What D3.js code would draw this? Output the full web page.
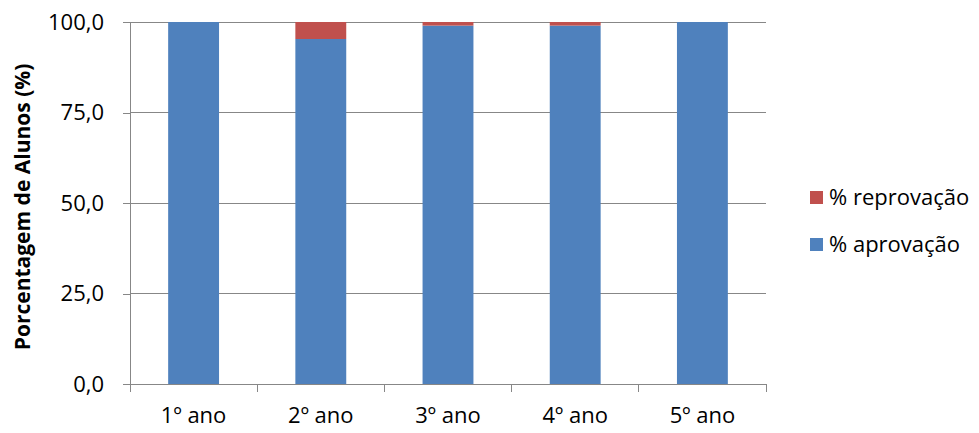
<!DOCTYPE html>
<html>
<head>
<meta charset="utf-8">
<script src="https://cdn.jsdelivr.net/npm/d3@7"></script>
<style>
  html, body { margin: 0; padding: 0; background: #fff; }
  svg { display: block; font-family: "Open Sans", "Noto Sans", sans-serif; }
</style>
</head>
<body>
<svg id="chart" width="979" height="433"></svg>
<script>
const categories = ["1º ano", "2º ano", "3º ano", "4º ano", "5º ano"];
const aprovacao = [100.0, 95.3, 99.0, 99.0, 100.0];
const reprovacao = [0.0, 4.7, 1.0, 1.0, 0.0];
const yTicks = [0, 25, 50, 75, 100];
const seriesNames = ["% aprovação", "% reprovação"];
const seriesColors = ["#4F81BD", "#C0504D"];
const yTitle = "Porcentagem de Alunos (%)";

(function () {
const svg = d3.select("#chart");
const pLeft = 130, pRight = 766, pTop = 22, pBottom = 384;
const gridColor = "#878787";

const x = d3.scaleBand().domain(categories).range([pLeft, pRight]).paddingInner(0.6).paddingOuter(0.3);
const y = d3.scaleLinear().domain([0, 100]).range([pBottom, pTop]);
const fmt = v => d3.format(".1f")(v).replace(".", ",");

// gridlines
svg.append("g").selectAll("line").data(yTicks.filter(d => d > 0)).join("line")
  .attr("x1", pLeft).attr("x2", pRight)
  .attr("y1", d => y(d)).attr("y2", d => y(d))
  .attr("stroke", gridColor).attr("stroke-width", 1).attr("shape-rendering", "crispEdges");

// stacked bars
const table = categories.map((c, i) => ({ cat: c, ap: aprovacao[i], rep: reprovacao[i] }));
const stack = d3.stack().keys(["ap", "rep"])(table);
svg.append("g").selectAll("g").data(stack).join("g")
  .attr("fill", (d, i) => seriesColors[i])
  .selectAll("rect").data(d => d).join("rect")
  .attr("x", d => x(d.data.cat))
  .attr("width", x.bandwidth())
  .attr("y", d => y(d[1]))
  .attr("height", d => Math.max(0, y(d[0]) - y(d[1])));

// y axis
const yAxis = svg.append("g").attr("transform", `translate(${pLeft},0)`)
  .call(d3.axisLeft(y).tickValues(yTicks).tickFormat(fmt).tickSize(7).tickSizeOuter(0).tickPadding(19));
yAxis.select(".domain").remove();
yAxis.selectAll(".tick line").attr("stroke", gridColor).attr("shape-rendering", "crispEdges");
yAxis.selectAll(".tick text").attr("font-size", 22).attr("fill", "#000")
  .attr("font-family", "'Open Sans', 'Noto Sans', sans-serif");
svg.append("line").attr("x1", pLeft).attr("x2", pLeft).attr("y1", pTop).attr("y2", pBottom + 8)
  .attr("stroke", gridColor).attr("shape-rendering", "crispEdges");

// x axis
const xAxis = svg.append("g").attr("transform", `translate(0,${pBottom})`)
  .call(d3.axisBottom(x).tickSize(0).tickPadding(23));
xAxis.select(".domain").remove();
xAxis.selectAll(".tick text").attr("font-size", 22).attr("fill", "#000")
  .attr("font-family", "'Open Sans', 'Noto Sans', sans-serif");
svg.append("line").attr("x1", pLeft).attr("x2", pRight).attr("y1", pBottom).attr("y2", pBottom)
  .attr("stroke", gridColor).attr("shape-rendering", "crispEdges");
const bounds = categories.map(c => x(c) - x.step() * x.paddingOuter()).concat([pRight]);
svg.append("g").selectAll("line").data(bounds).join("line")
  .attr("x1", d => d).attr("x2", d => d)
  .attr("y1", pBottom).attr("y2", pBottom + 8)
  .attr("stroke", gridColor).attr("shape-rendering", "crispEdges");

// y title
svg.append("text")
  .attr("transform", `translate(30,${(pTop + pBottom) / 2 + 4}) rotate(-90)`)
  .attr("text-anchor", "middle")
  .attr("font-size", 21).attr("font-weight", "bold").attr("fill", "#000")
  .text(yTitle);

// legend (reprovação on top)
const legendItems = [1, 0];
const lg = svg.append("g").selectAll("g").data(legendItems).join("g")
  .attr("transform", (d, i) => `translate(810,${191 + i * 47})`);
lg.append("rect").attr("width", 13).attr("height", 13).attr("fill", d => seriesColors[d]);
lg.append("text").attr("x", 19).attr("y", 14).attr("font-size", 22).attr("fill", "#000")
  .text(d => seriesNames[d]);
})();
</script>
</body>
</html>
